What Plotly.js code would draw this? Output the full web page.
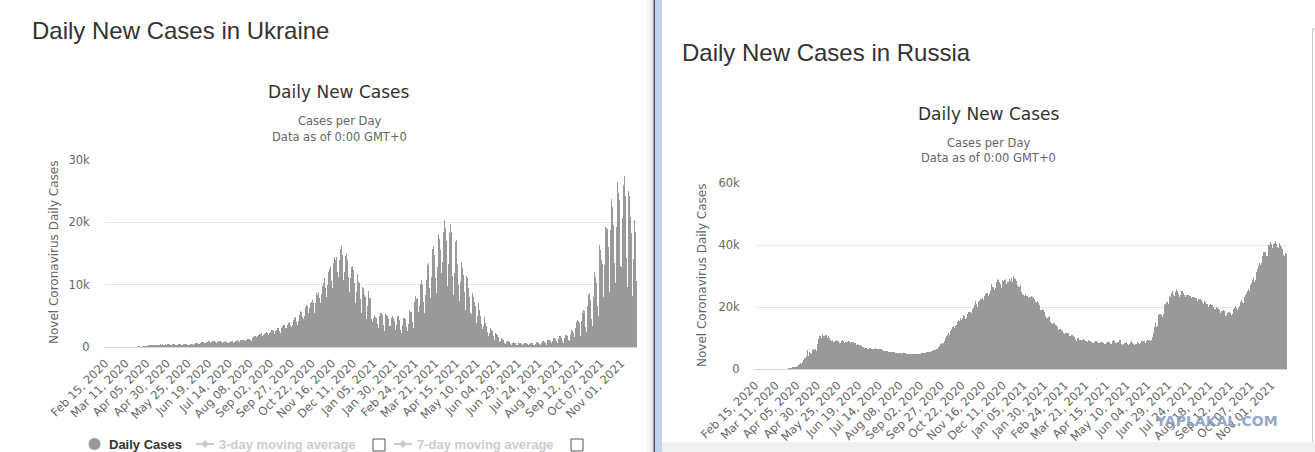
<!DOCTYPE html>
<html>
<head>
<meta charset="utf-8">
<script src="https://cdn.plot.ly/plotly-3.0.1.min.js"></script>
<style>html,body{margin:0;padding:0;background:#fff;}#chart{width:1315px;height:452px;}</style>
</head>
<body>
<div id="chart"></div>
<script>
// Daily new cases, in thousands, one value per day from 2020-02-15 (rows = weeks Sat..Fri)
const ukraineCases = [
0,0,0,0,0,0,0,
0,0,0,0,0,0,0,
0,0,0,0.001,0,0,0,
0,0,0,0.001,0,0.001,0,
0.001,0.002,0,0.003,0.007,0.01,0.01,
0.02,0.017,0.02,0.03,0.04,0.06,0.09,
0.098,0.061,0.068,0.143,0.12,0.146,0.171,
0.19,0.17,0.229,0.156,0.25,0.269,0.33,
0.33,0.3,0.27,0.32,0.37,0.32,0.4,
0.4,0.39,0.3,0.39,0.42,0.39,0.47,
0.48,0.39,0.36,0.48,0.4,0.42,0.5,
0.45,0.42,0.35,0.38,0.47,0.5,0.5,
0.48,0.4,0.33,0.37,0.38,0.42,0.47,
0.45,0.43,0.33,0.34,0.42,0.45,0.48,
0.44,0.43,0.32,0.38,0.37,0.48,0.53,
0.55,0.47,0.34,0.45,0.53,0.6,0.65,
0.68,0.55,0.42,0.6,0.7,0.75,0.78,
0.8,0.7,0.6,0.69,0.75,0.88,0.91,
0.92,0.8,0.65,0.78,0.9,0.97,1.0,
0.95,0.78,0.68,0.8,0.9,0.92,0.93,
0.89,0.76,0.62,0.76,0.82,0.86,0.89,
0.82,0.65,0.6,0.74,0.81,0.88,0.92,
0.9,0.77,0.66,0.8,0.9,1.0,1.06,
1.1,0.95,0.8,1.05,1.16,1.2,1.27,
1.2,1.06,0.9,1.12,1.25,1.28,1.33,
1.32,1.15,1.0,1.3,1.5,1.6,1.7,
1.8,1.6,1.45,1.75,1.9,2.1,2.13,
2.2,1.88,1.7,1.9,2.15,2.3,2.48,
2.5,2.2,1.9,2.3,2.4,2.5,2.7,
2.8,2.5,2.1,2.5,2.6,2.8,3.1,
3.0,2.6,2.2,2.6,3.1,3.4,3.5,
3.6,3.0,2.9,3.1,3.6,3.8,4.0,
4.0,3.5,3.2,3.6,4.3,4.6,4.7,
4.8,4.0,3.5,4.2,5.1,5.4,5.8,
5.6,4.8,4.5,5.0,5.9,6.4,6.7,
6.5,5.4,5.0,6.3,7.0,7.3,7.5,
7.0,6.4,5.4,7.1,8.7,8.3,8.8,
9.0,7.9,7.0,8.5,9.8,10.3,10.7,
11.0,9.4,8.0,9.9,11.1,12.0,12.5,
12.9,10.6,9.5,11.2,13.4,14.4,14.0,
14.5,12.1,10.8,11.2,13.9,15.8,16.2,
14.8,11.5,10.8,12.0,14.6,14.9,13.8,
13.9,11.2,8.9,11.1,12.9,13.2,13.0,
12.4,10.2,7.0,8.9,11.1,11.7,10.4,
10.2,7.7,5.5,7.0,9.6,9.4,8.4,
8.1,6.7,4.5,6.5,9.0,7.8,7.9,
5.5,4.5,4.0,4.6,5.2,4.8,4.4,
4.7,3.7,3.0,4.9,5.5,6.1,5.4,
5.1,3.5,2.6,3.8,5.3,5.1,4.9,
4.5,3.3,2.5,3.3,4.6,4.9,4.7,
4.2,3.2,2.7,3.5,4.9,5.0,4.4,
4.2,2.8,2.3,3.5,4.7,5.1,4.6,
4.5,3.2,2.6,3.7,5.4,5.9,5.6,
5.6,4.0,3.1,4.8,7.2,8.2,7.7,
7.8,5.6,4.5,6.5,10.1,10.8,10.0,
9.6,7.3,5.5,8.4,10.8,13.1,13.8,
13.4,9.5,7.8,11.2,15.7,15.8,16.2,
14.8,11.0,8.6,12.9,17.0,18.1,17.3,
15.5,11.9,9.0,13.7,18.5,20.3,19.1,
17.0,13.5,9.8,13.3,18.3,19.7,18.4,
16.4,11.4,8.4,11.8,16.9,17.1,15.5,
13.3,10.0,7.4,10.4,14.4,13.7,12.6,
11.6,8.8,6.0,8.3,11.4,11.0,9.5,
8.0,5.5,4.3,5.3,8.7,8.1,7.3,
6.6,5.2,3.8,4.9,7.1,5.9,5.0,
4.9,3.7,2.9,3.4,4.8,4.3,3.9,
3.4,2.4,1.8,2.3,3.3,3.1,2.8,
2.5,1.8,1.2,1.4,2.3,2.1,1.9,
1.6,1.1,0.8,1.0,1.5,1.3,1.2,
1.0,0.7,0.5,0.75,1.0,0.95,0.9,
0.8,0.5,0.35,0.6,0.8,0.75,0.7,
0.6,0.4,0.27,0.5,0.65,0.7,0.62,
0.55,0.35,0.25,0.45,0.6,0.62,0.6,
0.55,0.38,0.28,0.5,0.65,0.7,0.68,
0.6,0.4,0.3,0.55,0.75,0.82,0.8,
0.7,0.5,0.35,0.65,0.9,1.0,0.95,
0.85,0.6,0.4,0.8,1.1,1.15,1.1,
1.0,0.7,0.5,1.0,1.4,1.45,1.35,
1.2,0.9,0.6,1.3,1.7,1.75,1.6,
1.4,1.0,0.7,1.4,2.0,2.1,2.0,
1.7,1.2,0.9,1.9,2.6,2.8,2.5,
2.3,1.6,1.3,3.0,4.0,4.4,4.1,
3.8,2.3,1.7,4.2,5.5,6.0,5.8,
5.3,3.2,2.4,6.5,8.4,8.7,8.1,
7.6,4.5,3.4,8.0,11.8,12.0,11.3,
10.2,6.5,4.9,11.5,16.3,15.6,14.0,
13.3,8.0,6.0,13.2,19.2,19.1,18.9,
16.1,9.3,8.9,18.8,23.8,22.4,22.9,
19.5,13.4,10.3,19.2,26.4,26.1,24.7,
23.6,13.0,12.9,20.7,26.9,26.0,27.4,
24.2,14.2,9.6,18.0,25.1,24.2,20.8,
18.3,10.1,8.2,14.1,20.4,18.5,10.6
];

const russiaCases = [
0,0,0,0,0,0,0,
0,0,0,0,0,0,0,
0,0,0.001,0,0,0.001,0.001,
0.004,0.003,0.003,0.003,0.002,0.008,0.006,
0.02,0.02,0.03,0.02,0.03,0.05,0.05,
0.05,0.07,0.06,0.07,0.16,0.18,0.2,
0.23,0.27,0.3,0.5,0.44,0.77,0.6,
0.58,0.65,0.95,1.15,1.17,1.46,1.79,
1.67,2.19,2.56,2.77,3.39,3.45,4.07,
4.79,6.06,4.27,5.64,5.24,4.77,5.85,
5.97,6.36,6.2,6.41,5.84,7.1,7.93,
9.62,10.63,10.58,10.1,10.56,11.23,10.7,
10.8,11.01,11.66,10.9,10.03,10.6,9.97,
9.2,9.7,8.93,9.26,8.76,8.85,8.89,
8.6,9.43,8.95,8.92,8.34,8.37,8.57,
8.95,9.27,9.04,8.53,8.54,8.83,8.73,
8.86,8.98,9.02,8.6,8.4,8.78,8.7,
8.83,8.25,8.25,8.25,7.84,7.97,7.89,
7.9,7.6,7.72,7.42,7.18,7.11,7.0,
6.85,6.79,6.69,6.56,6.56,6.76,6.63,
6.73,6.61,6.6,6.37,6.56,6.51,6.64,
6.61,6.54,6.54,6.42,6.42,6.43,6.41,
6.22,6.11,5.94,5.84,5.86,5.81,5.87,
5.81,5.63,5.39,5.47,5.5,5.48,5.48,
5.46,5.43,5.16,5.2,5.1,5.24,5.21,
5.19,5.11,5.0,4.95,5.1,5.06,5.06,
5.06,4.89,4.84,4.75,4.83,4.87,4.87,
4.92,4.85,4.68,4.7,4.71,4.68,4.71,
4.99,4.98,4.73,4.73,4.73,4.95,5.11,
5.21,5.2,5.19,5.1,5.36,5.36,5.42,
5.45,5.51,5.51,5.53,5.67,5.91,6.06,
6.07,6.15,6.2,6.43,6.6,7.21,7.52,
7.87,8.14,8.23,8.13,8.48,8.94,9.41,
9.86,10.5,10.9,11.6,11.1,11.5,12.1,
12.85,13.6,13.87,13.3,14.2,13.75,14.2,
15.1,15.7,15.98,15.55,16.3,15.7,16.5,
17.3,16.5,17.2,16.2,16.55,17.7,18.3,
18.65,18.25,18.3,17.95,19.4,19.77,20.6,
20.5,21.8,20.98,19.85,19.9,21.6,21.98,
22.7,22.57,22.8,21.0,22.4,23.6,24.3,
24.6,24.58,25.17,23.6,24.3,25.3,27.5,
26.3,26.7,26.4,25.35,26.1,28.1,28.6,
29.0,28.8,28.1,27.4,26.1,27.9,28.6,
28.3,28.6,29.1,27.3,27.8,28.0,28.2,
28.9,28.5,29.4,28.5,28.0,29.9,29.2,
29.0,28.2,28.3,27.0,26.5,26.4,27.0,
26.0,24.8,24.2,24.0,23.7,24.3,24.0,
23.7,23.4,22.9,23.3,23.3,23.9,23.5,
23.2,22.9,22.5,22.2,21.7,21.5,21.9,
21.2,20.8,19.7,18.9,19.0,19.3,19.0,
18.5,17.9,17.2,16.6,16.4,16.7,17.0,
16.0,15.3,15.0,14.4,14.9,14.5,14.8,
14.3,14.2,13.4,12.6,12.8,12.9,12.9,
12.6,12.4,11.5,11.0,11.4,11.7,11.5,
11.5,11.5,11.3,10.6,10.5,11.0,11.0,
10.8,10.6,10.4,9.8,9.1,10.0,10.2,
9.9,9.4,9.3,9.4,9.3,9.7,9.7,
9.5,9.0,9.1,8.6,8.4,9.3,9.0,
8.9,8.7,8.6,8.3,8.3,8.8,9.1,
8.9,8.6,8.6,8.3,8.3,8.8,8.7,
8.8,8.7,8.4,8.2,8.2,8.3,9.0,
8.7,8.7,8.8,8.1,8.1,8.2,9.0,
9.3,8.9,8.4,8.0,8.3,8.8,8.7,
9.3,9.4,8.7,8.0,7.8,8.0,8.3,
8.4,8.8,8.8,8.2,7.8,8.2,8.3,
8.6,8.9,8.4,8.2,7.8,8.0,8.2,
8.2,8.6,8.4,8.1,7.7,8.3,8.9,
9.0,9.1,8.9,8.6,8.5,8.9,9.3,
9.2,9.2,9.4,8.9,9.2,10.4,11.7,
12.6,13.7,14.7,13.4,14.0,17.3,17.9,
17.6,17.9,17.4,16.7,17.6,20.2,20.5,
21.0,21.7,21.6,20.6,21.0,23.5,23.2,
24.4,25.1,24.4,23.8,23.5,24.7,25.8,
25.1,24.4,24.3,23.3,23.8,25.3,25.1,
25.0,24.5,24.0,23.1,23.8,24.5,24.0,
23.8,23.6,23.4,22.9,22.6,23.3,23.3,
23.3,23.0,22.9,21.5,22.0,22.7,22.6,
22.6,22.2,22.0,21.6,21.0,21.9,21.6,
21.6,21.1,21.0,20.0,20.5,21.0,20.9,
20.8,20.5,20.1,19.3,19.4,20.0,19.9,
19.7,19.3,19.0,18.2,17.9,18.6,18.7,
18.9,18.8,18.2,17.2,17.3,18.1,18.3,
18.4,18.5,18.2,17.5,17.8,19.3,19.6,
19.9,20.2,19.7,19.0,19.6,20.2,21.4,
21.6,22.2,21.6,21.4,22.4,23.1,23.8,
24.5,25.1,25.8,25.1,25.1,27.0,27.6,
28.7,29.4,29.4,28.2,28.7,31.3,32.2,
33.2,34.0,34.3,33.7,34.1,36.3,37.1,
37.7,37.9,37.9,36.6,36.4,40.1,40.0,
40.0,40.9,40.4,39.0,39.0,40.2,40.7,
41.3,40.2,39.2,38.1,38.9,40.8,40.0,
39.3,39.2,38.8,36.8,36.6,37.4,37.2
];

const firstDay = '2020-02-15';
const tickDates = ['2020-02-15','2020-03-11','2020-04-05','2020-04-30','2020-05-25','2020-06-19','2020-07-14','2020-08-08','2020-09-02','2020-09-27','2020-10-22','2020-11-16','2020-12-11','2021-01-05','2021-01-30','2021-02-24','2021-03-21','2021-04-15','2021-05-10','2021-06-04','2021-06-29','2021-07-24','2021-08-18','2021-09-12','2021-10-07','2021-11-01'];
const tickLabels = ['Feb 15, 2020','Mar 11, 2020','Apr 05, 2020','Apr 30, 2020','May 25, 2020','Jun 19, 2020','Jul 14, 2020','Aug 08, 2020','Sep 02, 2020','Sep 27, 2020','Oct 22, 2020','Nov 16, 2020','Dec 11, 2020','Jan 05, 2021','Jan 30, 2021','Feb 24, 2021','Mar 21, 2021','Apr 15, 2021','May 10, 2021','Jun 04, 2021','Jun 29, 2021','Jul 24, 2021','Aug 18, 2021','Sep 12, 2021','Oct 07, 2021','Nov 01, 2021'];
const ukraineYTicks = [0,10,20,30];
const ukraineYLabels = ['0','10k','20k','30k'];
const russiaYTicks = [0,20,40,60];
const russiaYLabels = ['0','20k','40k','60k'];

// consecutive calendar days for the category positions
const startMs = Date.parse(firstDay + 'T00:00:00Z');
const days = ukraineCases.map((_, i) => new Date(startMs + i * 86400000).toISOString().slice(0, 10));
const lastDay = days[days.length - 1];

const W = 1315, H = 452;
const X = px => px / W;
const Y = py => 1 - py / H;

const xTickFont = {family: 'DejaVu Sans', size: 11.5, color: '#666666'};
const yTickFont = {family: 'DejaVu Sans', size: 11.5, color: '#666666'};
function xAxis(domain, anchor) {
  return {
    domain: domain, anchor: anchor, type: 'date',
    range: [firstDay + ' 00:00', lastDay + ' 23:59'],
    tickmode: 'array', tickvals: tickDates, ticktext: tickLabels,
    tickangle: -45, tickfont: xTickFont,
    ticks: 'outside', ticklen: 4, tickcolor: 'rgba(0,0,0,0)',
    showgrid: false, zeroline: false,
    showline: true, linecolor: '#ccd6eb', linewidth: 1,
    fixedrange: true
  };
}
function yAxis(domain, anchor, max, vals, labels) {
  return {
    domain: domain, anchor: anchor, range: [0, max],
    tickmode: 'array', tickvals: vals, ticktext: labels, tickfont: yTickFont,
    ticks: 'outside', ticklen: 12, tickcolor: 'rgba(0,0,0,0)',
    showgrid: true, gridcolor: '#e6e6e6', gridwidth: 1,
    zeroline: false, showline: false, fixedrange: true
  };
}

const traces = [
  {type: 'bar', x: days, y: ukraineCases, xaxis: 'x', yaxis: 'y',
   marker: {color: '#999999', line: {width: 0}}, hoverinfo: 'skip'},
  {type: 'bar', x: days, y: russiaCases, xaxis: 'x2', yaxis: 'y2',
   marker: {color: '#999999', line: {width: 0}}, hoverinfo: 'skip'}
];

function ann(text, x, y, font, opts) {
  return Object.assign({text: text, x: X(x), y: Y(y), xref: 'paper', yref: 'paper',
    showarrow: false, font: font, xanchor: 'center', yanchor: 'middle'}, opts || {});
}
const headFont = {family: 'Liberation Sans, Arial, sans-serif', size: 24, color: '#333333'};
const titleFont = {family: 'DejaVu Sans', size: 17, color: '#333333'};
const subFont = {family: 'DejaVu Sans', size: 11.5, color: '#666666'};
const axTitleFont = {family: 'DejaVu Sans', size: 12, color: '#666666'};
const legOn = {family: 'Liberation Sans, Arial, sans-serif', size: 13, color: '#333333', weight: 'bold'};
const legOff = {family: 'Liberation Sans, Arial, sans-serif', size: 13, color: '#cccccc', weight: 'bold'};

const annotations = [
  ann('Daily New Cases in Ukraine', 29.5, 30.5, headFont, {xanchor: 'left'}),
  ann('Daily New Cases', 339, 92, titleFont),
  ann('Cases per Day', 339, 121, subFont),
  ann('Data as of 0:00 GMT+0', 339, 137, subFont),
  ann('Novel Coronavirus Daily Cases', 54, 253, axTitleFont, {textangle: -90}),
  ann('<b>Daily Cases</b>', 107, 444, legOn, {xanchor: 'left'}),
  ann('<b>3-day moving average</b>', 217, 444, legOff, {xanchor: 'left'}),
  ann('<b>7-day moving average</b>', 415, 444, legOff, {xanchor: 'left'}),
  ann('Daily New Cases in Russia', 679.5, 52.5, headFont, {xanchor: 'left'}),
  ann('Daily New Cases', 989, 114, titleFont),
  ann('Cases per Day', 989, 143, subFont),
  ann('Data as of 0:00 GMT+0', 989, 158, subFont),
  ann('Novel Coronavirus Daily Cases', 702, 276, axTitleFont, {textangle: -90}),
  ann('<b>YAPLAKAL.COM</b>', 1216, 421, {family: 'DejaVu Sans', size: 14, color: '#8aa0bf'}, {opacity: 0.9})
];

function rect(x0, y0, x1, y1, fill, line) {
  return {type: 'rect', xref: 'paper', yref: 'paper', x0: X(x0), x1: X(x1), y0: Y(y1), y1: Y(y0),
    fillcolor: fill, line: line || {width: 0}, layer: 'above'};
}
function diamondPath(cx, cy, r) {
  return 'M' + X(cx - r) + ',' + Y(cy) + ' L' + X(cx) + ',' + Y(cy - r) + ' L' + X(cx + r) + ',' + Y(cy) + ' L' + X(cx) + ',' + Y(cy + r) + ' Z';
}
const shapes = [
  // soft shadow and divider between the two panels
  rect(647, 0, 649.5, 452, '#f8f8f8'),
  rect(649.5, 0, 651.5, 452, '#f0f0f0'),
  rect(651.5, 0, 653.5, 452, '#e4e4e4'),
  rect(653.5, 0, 655, 452, '#555a62'),
  rect(655, 0, 662, 452, '#bfd4ef'),
  rect(662, 442, 1315, 452, '#f0f0f0'),
  {type: 'line', xref: 'paper', yref: 'paper', x0: X(1312.5), x1: X(1312.5), y0: Y(29), y1: Y(442), line: {color: '#c6c6c6', width: 1}},
  {type: 'line', xref: 'paper', yref: 'paper', x0: X(1312.5), x1: X(1315), y0: Y(29), y1: Y(29), line: {color: '#c6c6c6', width: 1}},
  // legend symbols
  {type: 'circle', xref: 'paper', yref: 'paper', x0: X(88.5), x1: X(100.5), y0: Y(450), y1: Y(438), fillcolor: '#999999', line: {width: 0}},
  {type: 'line', xref: 'paper', yref: 'paper', x0: X(196), x1: X(214), y0: Y(444), y1: Y(444), line: {color: '#cccccc', width: 2}},
  {type: 'path', xref: 'paper', yref: 'paper', path: diamondPath(205, 444, 4), fillcolor: '#cccccc', line: {width: 0}},
  {type: 'line', xref: 'paper', yref: 'paper', x0: X(394), x1: X(412), y0: Y(444), y1: Y(444), line: {color: '#cccccc', width: 2}},
  {type: 'path', xref: 'paper', yref: 'paper', path: diamondPath(403, 444, 4), fillcolor: '#cccccc', line: {width: 0}},
  rect(373, 439, 385, 451, '#ffffff', {color: '#555555', width: 1}),
  rect(571, 439, 583, 451, '#ffffff', {color: '#555555', width: 1})
];

const layout = {
  width: W, height: H, margin: {l: 0, r: 0, t: 0, b: 0},
  paper_bgcolor: '#ffffff', plot_bgcolor: 'rgba(0,0,0,0)',
  showlegend: false, bargap: 0, hovermode: false,
  xaxis: xAxis([X(105), X(637)], 'y'),
  yaxis: yAxis([Y(347), Y(160)], 'x', 30, ukraineYTicks, ukraineYLabels),
  xaxis2: xAxis([X(755), X(1287)], 'y2'),
  yaxis2: yAxis([Y(369), Y(183)], 'x2', 60, russiaYTicks, russiaYLabels),
  annotations: annotations,
  shapes: shapes
};

Plotly.newPlot('chart', traces, layout, {displayModeBar: false, staticPlot: true});
</script>
</body>
</html>
